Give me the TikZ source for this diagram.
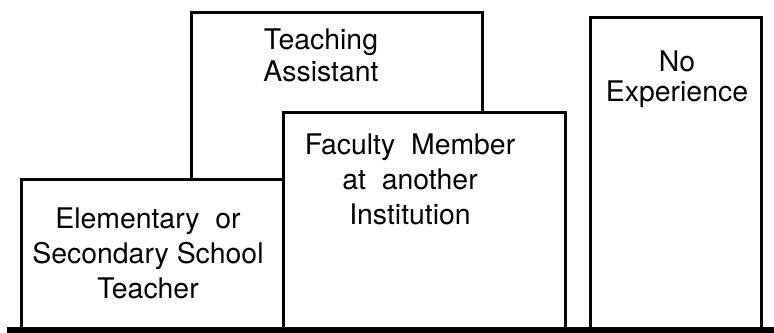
\documentclass[tikz,border=0pt]{standalone}
\usepackage{fontspec}
\setmainfont{TeX Gyre Heros}
\usetikzlibrary{positioning}

\tikzset{
    box/.style={draw, rectangle, fill=white, line width=1.5pt, inner sep=0pt, outer sep=0pt, anchor=north west},
    lbl/.style={align=center, inner sep=0pt, anchor=north, font=\fontsize{14.2}{15}\selectfont},
    lblmid/.style={lbl, font=\fontsize{14.2}{16}\selectfont},
    lblwide/.style={lbl, font=\fontsize{14.2}{17.5}\selectfont},
    ground/.style={line width=3pt}
}

\begin{document}
\begin{tikzpicture}[
                            x=0.5pt, y=-0.5pt
                            ]

                            \useasboundingbox (0,0) rectangle (774,332);

                            % boxes, back to front
                            \node [box, minimum width=145.5pt, minimum height=83.5pt] (ta) at (191,12) {};
                            \node [box, minimum width=131pt, minimum height=75.5pt] (elem) at (21,179) {};
                            \node [box, minimum width=141pt, minimum height=109pt] (fac) at (283,112) {};
                            \node [box, minimum width=85.5pt, minimum height=156.5pt] (noexp) at (590,17) {};

                            % labels
                            \node [lblmid, below=8pt of ta.north, xshift=-7.75pt] (talbl) {Teaching\\Assistant};
                            \node [lblwide, below=14pt of elem.north, xshift=-2pt] (elemlbl) {Elementary~ or\\Secondary School\\Teacher};
                            \node [lblwide, below=10.5pt of fac.north, xshift=-7pt] (faclbl) {Faculty~ Member\\at~ another\\Institution};
                            \node [lbl, below=16.5pt of noexp.north, xshift=0.75pt] (noexplbl) {No\\Experience};

                            % base line
                            \coordinate (gl) at (7,330);
                            \coordinate (gr) at (774,330);
                            \draw[ground] (gl) -- (gr);

                        \end{tikzpicture}
\end{document}
